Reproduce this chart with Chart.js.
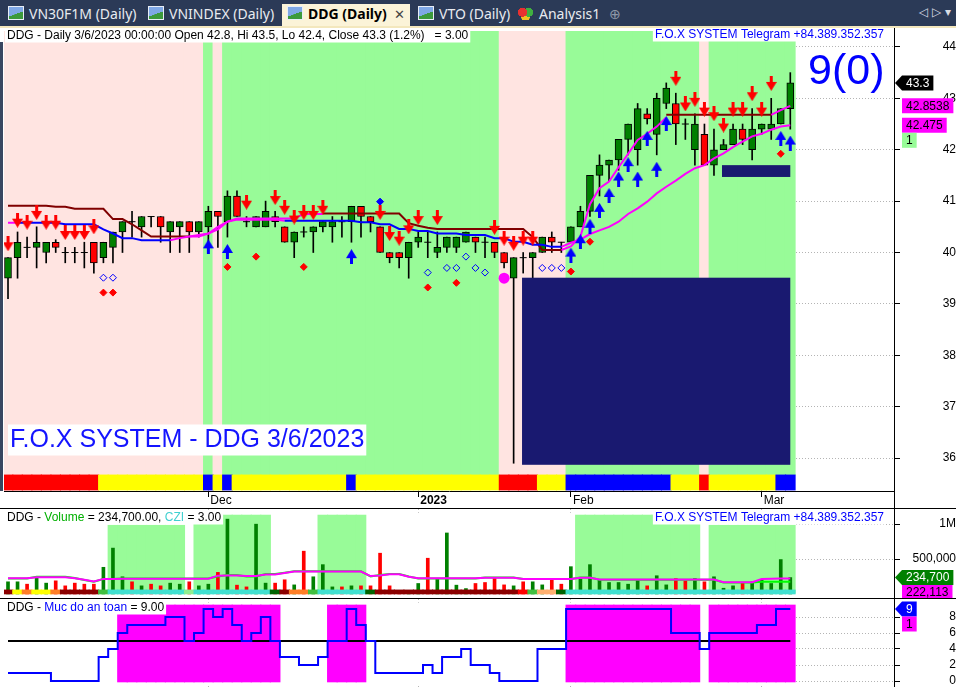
<!DOCTYPE html>
<html>
<head>
<meta charset="utf-8">
<title>DDG (Daily)</title>
<script src="https://cdn.jsdelivr.net/npm/chart.js@4.4.1/dist/chart.umd.min.js"></script>
<style>
  html, body { margin: 0; padding: 0; }
  body { width: 956px; height: 687px; overflow: hidden; background: #fff; position: relative; }
  #tabbar { position: absolute; left: 0; top: 0; width: 956px; height: 27px; background: #2b3a57; }
  #tabline { position: absolute; left: 0; top: 26px; width: 956px; height: 2px; background: #f3e7bd; }
  .tab { position: absolute; top: 4px; height: 23px; line-height: 22px; color: #e8ebf0; font: 14px "Noto Sans", sans-serif; white-space: nowrap; }
  .tab.on { background: #fbf3d8; color: #000; font-weight: bold; padding-left: 5px; width: 123px; }
  .ic { display: inline-block; width: 14px; height: 12px; margin-right: 5px; vertical-align: -1px; border: 1px solid #e8eef6;
        background: linear-gradient(160deg, #7fa8e6 55%, #3c9a3c 56%); }
  .cube { display: inline-block; width: 15px; height: 13px; margin-right: 6px; vertical-align: -1px;
          background: radial-gradient(circle at 30% 40%, #e83030 35%, transparent 36%), radial-gradient(circle at 70% 40%, #40b040 35%, transparent 36%), radial-gradient(circle at 50% 75%, #f0c020 35%, transparent 36%); }
  .x { font-weight: normal; color: #444; margin-left: 7px; font-size: 13px; }
  .nav { position: absolute; top: 5px; color: #d8dce4; font: 12px "DejaVu Sans", sans-serif; }
  canvas { position: absolute; left: 0; }
  #cPrice { top: 28px; }
  #cVol { top: 508px; }
  #cMuc { top: 598px; }
  .ln { position: absolute; background: #000; }
</style>
</head>
<body>
<div id="tabbar">
  <div class="tab" style="left:8px"><span class="ic"></span>VN30F1M (Daily)</div>
  <div class="tab" style="left:148px"><span class="ic"></span>VNINDEX (Daily)</div>
  <div class="tab on" style="left:282px"><span class="ic"></span>DDG (Daily)<span class="x">✕</span></div>
  <div class="tab" style="left:418px"><span class="ic"></span>VTO (Daily)</div>
  <div class="tab" style="left:518px"><span class="cube"></span>Analysis1</div>
  <div class="tab" style="left:609px;color:#8f98a8">⊕</div>
  <div class="nav" style="left:919px">◁</div>
  <div class="nav" style="left:932px">▷</div>
  <div class="nav" style="left:945px">▾</div>
</div>
<div id="tabline"></div>
<canvas id="cPrice" width="956" height="480"></canvas>
<canvas id="cVol" width="956" height="90"></canvas>
<canvas id="cMuc" width="956" height="89"></canvas>
<div class="ln" style="left:0;top:508px;width:956px;height:1px"></div>
<div class="ln" style="left:0;top:598px;width:956px;height:1px"></div>
<div class="ln" style="left:894px;top:28px;width:1px;height:659px"></div>
<div class="ln" style="left:0;top:42px;width:3px;height:449px;background:#3a4660"></div>

<script>
// ---- values (one entry per trading day, 2 Nov 2022 .. 6 Mar 2023) ----
const monthBars  = [21, 43, 59, 79];
const monthNames = ['Dec', '2023', 'Feb', 'Mar'];

const opens = [39.5,39.9,40.1,40.1,40.0,40.2,40.0,40.0,40.0,40.2, 39.9,40.1,40.4,40.6,40.5,40.7,40.7,40.4,40.5,40.6,
  40.4,40.5,40.8,40.6,41.1,40.6,40.5,40.5,40.7,40.5, 40.2,40.4,40.4,40.5,40.5,40.6,40.6,40.9,40.7,40.5,
  40.0,40.0,39.9,40.2,40.2,40.0,40.1,40.1,40.2,40.3, 40.2,40.2,40.0,39.5,39.9,39.9,40.0,40.3,40.2,40.2,
  40.5,40.8,41.5,41.7,41.8,42.2,42.0,42.7,42.3,42.9, 42.9,42.5,42.0,42.3,41.7,42.0,42.1,42.4,42.0,42.4,
  42.4,42.5,42.8];
const highs = [39.9,40.4,40.3,40.5,40.2,40.25,40.1,40.1,40.2,40.2, 40.2,40.4,40.6,40.8,40.7,40.7,40.7,40.6,40.6,40.6,
  40.6,40.9,40.8,41.2,41.2,40.7,40.7,41.0,40.8,40.5, 40.4,40.5,40.5,40.6,40.7,40.7,40.9,40.9,40.7,40.5,
  40.0,40.0,40.2,40.4,40.4,40.4,40.3,40.3,40.4,40.3, 40.3,40.2,40.0,39.9,40.0,40.0,40.3,40.4,40.2,40.5,
  40.9,41.5,41.9,41.8,42.2,42.5,42.9,42.8,43.1,43.3, 43.1,42.6,42.7,42.5,42.4,42.2,42.5,42.5,42.8,42.5,
  43.0,42.8,43.5];
const lows = [39.1,39.5,39.9,39.7,39.8,40.0,39.8,39.8,39.7,39.6, 39.8,39.8,40.0,40.3,40.3,40.5,40.2,40.0,40.0,40.0,
  40.3,40.2,40.1,40.3,40.7,40.5,40.5,40.5,40.5,40.2, 39.9,40.3,40.0,40.4,40.2,40.3,40.2,40.3,40.4,40.0,
  39.8,39.7,39.5,40.1,39.9,39.9,40.0,40.0,40.2,40.0, 39.9,39.9,39.7,35.9,39.6,39.5,40.0,40.0,40.0,40.2,
  40.5,40.7,41.1,41.4,41.6,41.9,41.7,42.5,41.9,42.8, 42.1,42.2,41.7,41.7,41.5,42.0,42.1,42.1,41.8,42.3,
  42.2,42.5,42.4];
const closes = [39.9,40.2,40.1,40.2,40.2,40.1,40.0,40.0,40.0,39.8, 40.2,40.4,40.6,40.6,40.7,40.7,40.5,40.6,40.6,40.4,
  40.6,40.8,40.7,41.1,40.7,40.6,40.7,40.8,40.6,40.2, 40.4,40.4,40.5,40.6,40.6,40.6,40.9,40.7,40.6,40.0,
  39.9,39.9,40.2,40.3,40.2,40.1,40.3,40.3,40.4,40.2, 40.2,40.0,39.8,39.9,39.9,40.0,40.3,40.2,40.2,40.5,
  40.8,41.5,41.7,41.8,42.2,42.5,42.8,42.6,43.0,43.2, 42.5,42.5,42.5,41.7,42.0,42.1,42.4,42.2,42.4,42.5,
  42.5,42.8,43.3];

// trend lines (null = not drawn in that colour)
const maBlue = [null,40.58,40.58,40.58,40.58,40.58,40.55,40.55,40.55,40.55, 40.45,40.37,40.28,40.28,40.24,40.24,40.24,40.24,null,null,
  null,null,null,null,null,null,null,null,null,40.62, 40.62,40.62,40.62,40.62,40.62,40.62,40.62,40.59,40.59,40.55,
  40.55,40.46,40.46,40.42,40.42,40.37,40.37,40.37,40.34,40.34, 40.34,40.28,40.28,40.21,40.21,40.15,40.15,40.11,40.11,null,
  null,null,null,null,null,null,null,null,null,null, null,null,null,null,null,null,null,null,null,null,
  null,null,null];
const maMag = [40.58,40.58,null,null,null,null,null,null,null,null, null,null,null,null,null,null,null,40.24,40.28,40.31,
  40.34,40.37,40.5,40.6,40.64,40.64,40.64,40.64,40.64,40.62, null,null,null,null,null,null,null,null,null,null,
  null,null,null,null,null,null,null,null,null,null, null,null,null,null,null,null,null,null,40.11,40.19,
  40.25,40.36,40.43,40.5,40.6,40.75,40.86,40.99,41.15,41.28, 41.4,41.53,41.64,41.7,41.83,41.93,42.05,42.16,42.26,42.31,
  42.39,42.45,42.475];
const stRed = [40.91,40.91,40.91,40.91,40.91,40.89,40.89,40.85,40.85,40.85, 40.85,40.65,40.65,40.55,40.43,40.31,40.31,40.31,40.31,40.31,
  null,null,null,null,null,null,null,null,null,null, null,null,null,40.76,40.76,40.76,40.76,40.76,40.76,40.76,
  40.76,40.76,40.57,40.52,40.48,40.46,40.46,40.46,40.46,40.46, 40.46,40.46,40.46,40.46,40.46,40.3,40.05,40.05,40.05,null,
  null,null,null,null,null,null,null,null,null,42.68, 42.68,42.68,42.68,42.68,42.68,42.68,42.68,42.68,42.68,42.68,
  42.68,null,null];
const stMag = [null,null,null,null,null,null,null,null,null,null, null,null,null,null,null,null,null,null,null,40.31,
  40.31,40.37,40.45,40.6,40.66,40.66,40.66,40.66,40.66,40.66, 40.66,40.75,40.75,40.75,null,null,null,null,null,null,
  null,null,null,null,null,null,null,null,null,null, null,null,null,null,null,null,null,null,40.05,40.12,
  40.31,40.94,41.25,41.38,41.66,41.92,42.19,42.31,42.45,42.63, null,null,null,null,null,null,null,null,null,null,
  42.68,42.77,42.8538];

// signal marks
const downArrowBars = [0,1,2,3,4,5,6,7,8,9,25,28,29,30,31,32,33,39,40,41,42,43,45,51,52,53,54,55,70,71,72,73,74,75,76,77,78,79,80];
const downArrowAt = [40.17,40.63,40.59,40.78,40.59,40.59,40.39,40.39,40.39,40.5,40.98,41.07,40.88,40.69,40.78,40.78,40.88,40.78,40.37,40.28,
  40.5,40.68,40.68,40.49,40.28,40.18,40.28,40.28,43.39,42.89,42.98,42.79,42.70,42.48,42.79,42.79,43.09,42.79,43.29];
const upArrowBars = [21,23,36,59,60,61,62,63,64,65,66,67,68,69,81,82];
const upArrowAt = [40.11,40.02,39.92,39.95,40.21,40.51,40.82,41.11,41.43,41.71,41.43,42.22,41.62,42.51,42.22,42.13];
const redDotBars = [10,11,23,26,31,44,47,59,61,81];
const redDotAt = [39.22,39.22,39.72,39.92,39.72,39.32,39.41,39.63,40.21,41.92];
const ringBars = [10,11,44,46,47,48,49,50,56,57,58];
const ringAt = [39.51,39.51,39.61,39.7,39.7,39.92,39.7,39.61,39.7,39.7,39.7];
const blueDotBars = [39], blueDotAt = [40.99];
const bigDotBars = [52], bigDotAt = [39.5];
const zoneBoxes = [[53.88, 82.0, 39.51, 35.87], [74.84, 82.0, 41.70, 41.47]];

// per-bar state strings
const priceBg  = 'ppppppppppppppppppppp' + 'g' + 'p' + 'ggggggggggggggggggggggggggggg' + 'ppppppp' + 'gggggggggggggg' + 'p' + 'ggggggggg';
const ribbon   = 'RRRRRRRRRR' + 'YYYYYYYYYYY' + 'BYB' + 'YYYYYYYYYYYY' + 'B' + 'YYYYYYYYYYYYYYY' + 'RRRR' + 'YYY' + 'BBBBBBBBBBB' + 'YYY' + 'R' + 'YYYYYYY' + 'BB';
const cziState = 'DYOYYODDDDG' + 'TTTTTTTT' + 'L' + 'TTTTTTTT' + 'KDOOG' + 'TTTTT' + 'K' + 'DDDDDDDDDDDDDDD' + 'RGAAK' + 'TTTTTTTTTTTTTTTTTTTTTTTT';
const volBand  = '00000000000' + '11111111' + '0' + '22222222' + '00000' + '22222' + '0000000000000000000000' + '2222222222222' + '0' + '111111111';
const mucBand  = '000000000000' + '11111111111111111' + '00000' + '1111' + '000000000000000000000' + '11111111111111' + '0' + '111111111';

const volumes = [174,174,140,246,155,188,116,155,140,140, 382,657,246,174,116,140,116,155,140,174,
  116,140,309,1072,126,101,1000,155,155,203, 130,613,246,420,101,101,116,116,116,584,
  116,43,43,150,512,222,874,126,77,150, 164,237,130,116,174,174,130,213,140,391,
  213,420,203,164,164,140,203,116,261,130, 222,188,222,174,246,82,116,164,174,203,
  150,493,234.7].map(v => v * 1000);
const volMaGreen = [222,222,222,246,246,246,246,230,200,174, 213,213,222,222,222,222,222,222,222,222,
  222,222,250,271,271,251,251,285,285,305, 324,324,324,324,324,324,324,324,251,270,
  285,285,250,222,222,222,222,222,222,222, 237,237,237,237,213,213,213,213,213,213,
  237,237,203,203,203,203,203,203,203,203, 203,203,203,203,203,164,164,164,164,174,
  174,174,174].map(v => v * 1000);
const volMaMag = [226,226,226,240,240,240,240,226,205,180, 216,216,218,218,218,218,218,218,218,218,
  218,218,262,266,266,256,256,280,280,300, 320,320,320,320,320,320,320,320,256,266,
  281,281,246,226,226,226,226,226,226,226, 233,233,233,233,216,216,216,216,216,216,
  233,233,207,207,207,207,207,207,207,207, 207,207,207,207,207,168,168,168,168,215,
  218,220,222.113].map(v => v * 1000);

const mucValues = [1,1,1,1,1,0,0,0,0,0, 3,4,6,7,7,7,7,8,8,5, 6,9,8,9,7,5,6,8,5,3,
  3,2,2,3,5,5,9,7,5,1, 1,1,1,1,2,1,3,3,4,2, 2,1,0,0,0,0,4,4,4,9,
  9,9,9,9,9,9,9,9,9,9, 6,6,6,4,6,6,6,6,6,7, 7,9,9];
const mucLevel = 5;

// ---- look ----
const FONT = '"Liberation Sans", Arial, sans-serif';
Chart.defaults.font.family = FONT;
Chart.defaults.font.size = 12;
Chart.defaults.color = '#000';
Chart.defaults.animation = false;

const N = closes.length;
const bars = closes.map((_, i) => i);
const X_MIN = -0.42, X_MAX = 92.87;
const GRID = '#b4b4b4';
const bgColor = { p: '#ffe4e1', g: '#98fb98' };
const ribbonColor = { R: '#ff0000', Y: '#ffff00', B: '#0000ff' };
const cziColor = { D: '#8b0000', Y: '#ffff00', O: '#ff7f27', A: '#ffb070', G: '#40c040', K: '#006400', T: '#40e0d0', L: '#90ee90', R: '#ff0000' };

const pts = (xs, ys) => xs.map((x, k) => ({ x, y: ys[k] }));
const line = (arr, color) => ({ type: 'line', data: arr.map((v, i) => ({ x: i, y: v })), borderColor: color, borderWidth: 2,
  pointRadius: 0, spanGaps: false, order: 6, yAxisID: 'y' });
// one full-width bar per day on the hidden 0..1 axis; lo/hi may depend on the state code
const band = (codes, lo, hi, colors, order, skip) => ({
  type: 'bar', yAxisID: 'yb', grouped: false, barThickness: 10, order, clip: 0,
  data: codes.split('').map((c, i) => ({ x: i, y: c === skip ? null : [typeof lo === 'object' ? lo[c] : lo, typeof hi === 'object' ? hi[c] : hi] })),
  backgroundColor: codes.split('').map(c => colors[c] || '#fff')
});

function arrowImg(color, up) {
  const c = document.createElement('canvas');
  c.width = 11; c.height = 15;
  const g = c.getContext('2d');
  if (up) { g.translate(0, 15); g.scale(1, -1); }
  g.fillStyle = color;
  g.fillRect(4, 0, 3, 7);
  g.beginPath(); g.moveTo(0, 6); g.lineTo(11, 6); g.lineTo(5.5, 15); g.closePath(); g.fill();
  return c;
}
const downImg = arrowImg('#ff0000', false);
const upImg = arrowImg('#0000ff', true);

const noPad = s => { s.paddingLeft = s.paddingRight = s.paddingTop = s.paddingBottom = 0; };

function xAxis(labels) {
  return {
    type: 'linear', min: X_MIN, max: X_MAX, offset: false, bounds: 'data',
    afterBuildTicks: s => { s.ticks = monthBars.map(v => ({ value: v })); },
    afterFit: s => { s.height = labels ? 17 : 0; noPad(s); },
    grid: { color: GRID, offset: false, drawTicks: labels, tickLength: 6, tickColor: '#000' },
    border: { display: labels, color: '#000', dash: [1, 2] },
    ticks: {
      display: labels, align: 'start', labelOffset: 2, padding: -4, maxRotation: 0, autoSkip: false,
      callback: v => monthNames[monthBars.indexOf(v)],
      font: c => ({ size: 12, family: FONT, weight: monthNames[c.index] === '2023' ? 'bold' : 'normal' })
    }
  };
}
function yAxis(min, max, tickVals, fmt, pad) {
  return {
    position: 'right', min, max, beginAtZero: false, offset: false,
    afterBuildTicks: s => { s.ticks = tickVals.map(v => ({ value: v })); },
    afterFit: s => { s.width = 62; noPad(s); },
    grid: { color: GRID, tickLength: 6, tickColor: '#000' },
    border: { color: '#000', dash: [1, 2] },
    ticks: { crossAlign: 'far', padding: pad, autoSkip: false, callback: fmt }
  };
}
const hiddenAxis = { display: false, min: 0, max: 1, beginAtZero: false, afterFit: noPad };

// titles, value tags on the axis, and the two zone boxes
const overlay = {
  id: 'overlay',
  afterDatasetsDraw(chart, args, o) {
    const { ctx, scales } = chart;
    (o.boxes || []).forEach(b => {
      const x0 = scales.x.getPixelForValue(b[0]), x1 = scales.x.getPixelForValue(b[1]);
      const y0 = scales.y.getPixelForValue(b[2]), y1 = scales.y.getPixelForValue(b[3]);
      ctx.fillStyle = '#191970';
      ctx.fillRect(x0, y0, x1 - x0, y1 - y0);
    });
  },
  afterDraw(chart, args, o) {
    const ctx = chart.ctx;
    ctx.save();
    ctx.textBaseline = 'middle';
    ctx.textAlign = 'left';
    (o.texts || []).forEach(t => {
      ctx.font = t.font;
      const w = t.parts.reduce((s, p) => s + ctx.measureText(p[0]).width, 0);
      let x = t.align === 'right' ? t.x - w : t.x;
      if (t.h) { ctx.fillStyle = '#fff'; ctx.fillRect(x - 2, t.y - t.h / 2, w + 4, t.h); }
      t.parts.forEach(p => { ctx.fillStyle = p[1]; ctx.fillText(p[0], x, t.y); x += ctx.measureText(p[0]).width; });
    });
    const ys = chart.scales.y, left = ys.left, h = 15;
    let prevBottom = -1e9;
    ctx.font = '12px ' + FONT;
    (o.tags || []).forEach(t => {
      const w = ctx.measureText(t.text).width + 8, x0 = left + 8;
      let cy = t.value == null ? prevBottom + h / 2 : ys.getPixelForValue(t.value);
      if (cy - h / 2 < prevBottom) cy = prevBottom + h / 2;
      ctx.fillStyle = t.bg;
      ctx.beginPath();
      if (t.arrow) {
        ctx.moveTo(left + 1, cy); ctx.lineTo(x0, cy - h / 2); ctx.lineTo(x0 + w, cy - h / 2);
        ctx.lineTo(x0 + w, cy + h / 2); ctx.lineTo(x0, cy + h / 2); ctx.closePath();
      } else ctx.rect(x0, cy - h / 2, w, h);
      ctx.fill();
      ctx.fillStyle = t.fg;
      ctx.fillText(t.text, x0 + 4, cy + 0.5);
      prevBottom = cy + h / 2;
    });
    ctx.restore();
  }
};

const baseOpts = {
  responsive: false, animation: false, events: [],
  plugins: { legend: { display: false }, tooltip: { enabled: false } }
};
const fox = { x: 884, align: 'right', parts: [['F.O.X SYSTEM Telegram +84.389.352.357', '#0000ff']], font: '12px ' + FONT, h: 13 };
const last = N - 1;
const pct = ((closes[last] / closes[last - 1] - 1) * 100).toFixed(1);

// ---- price pane ----
const doji = bars.map(i => opens[i] === closes[i] ? closes[i] : null);
new Chart(document.getElementById('cPrice'), {
  type: 'scatter',
  data: {
    datasets: [
      band(priceBg, 0.035, 1, bgColor, 30),
      band(ribbon, 0.002, 0.035, ribbonColor, 29),
      line(maBlue, '#0000ff'), line(maMag, '#ff00ff'), line(stRed, '#800000'), line(stMag, '#ff00ff'),
      { type: 'bar', grouped: false, barThickness: 1, order: 9, data: bars.map(i => ({ x: i, y: [lows[i], highs[i]] })), backgroundColor: '#000' },
      { type: 'bar', grouped: false, barThickness: 7, order: 8, borderWidth: 1, borderColor: '#000', borderSkipped: false,
        data: bars.map(i => ({ x: i, y: opens[i] === closes[i] ? null : [opens[i], closes[i]] })),
        backgroundColor: bars.map(i => closes[i] > opens[i] ? '#008000' : '#ff0000') },
      { type: 'scatter', order: 7, data: doji.map((v, i) => ({ x: i, y: v })), pointStyle: 'line', pointRadius: 3.5, borderColor: '#000', borderWidth: 1 },
      { type: 'scatter', order: 3, data: pts(downArrowBars, downArrowAt), pointStyle: downImg, pointRadius: 7 },
      { type: 'scatter', order: 3, data: pts(upArrowBars, upArrowAt), pointStyle: upImg, pointRadius: 7 },
      { type: 'scatter', order: 3, data: pts(redDotBars, redDotAt), pointStyle: 'rectRot', pointRadius: 3.5, backgroundColor: '#ff0000', borderColor: '#ff0000', borderWidth: 1 },
      { type: 'scatter', order: 3, data: pts(ringBars, ringAt), pointStyle: 'rectRot', pointRadius: 3.5, backgroundColor: 'rgba(0,0,0,0)', borderColor: '#0000ff', borderWidth: 1 },
      { type: 'scatter', order: 3, data: pts(blueDotBars, blueDotAt), pointStyle: 'rectRot', pointRadius: 3.5, backgroundColor: '#0000ff', borderColor: '#0000ff', borderWidth: 1 },
      { type: 'scatter', order: 3, data: pts(bigDotBars, bigDotAt), pointStyle: 'circle', pointRadius: 5.5, backgroundColor: '#ff00ff', borderColor: '#ff00ff', borderWidth: 0 }
    ]
  },
  options: {
    ...baseOpts,
    layout: { autoPadding: false, padding: { left: 4, top: 3, right: 0, bottom: 0 } },
    scales: {
      x: xAxis(true),
      y: yAxis(35.36, 44.31, [36, 37, 38, 39, 40, 41, 42, 43, 44], v => v, 37),
      yb: hiddenAxis
    },
    plugins: {
      ...baseOpts.plugins,
      overlay: {
        boxes: zoneBoxes,
        texts: [
          { x: 7, y: 7.5, parts: [[`DDG - Daily 3/6/2023 00:00:00 Open ${opens[last]}, Hi ${highs[last]}, Lo ${lows[last]}, Close ${closes[last]} (${pct}%)   = 3.00`, '#000']], font: '12px ' + FONT, h: 14 },
          { ...fox, y: 7 },
          { x: 10, y: 412, parts: [['F.O.X SYSTEM - DDG 3/6/2023', '#1414ff']], font: '25px ' + FONT, h: 31 },
          { x: 808, y: 44, parts: [['9(0)', '#0000ff']], font: '43px ' + FONT }
        ],
        tags: [
          { text: String(closes[last]), value: closes[last], bg: '#000', fg: '#fff', arrow: true },
          { text: String(stMag[last]), value: stMag[last], bg: '#ff00ff', fg: '#000' },
          { text: String(maMag[last]), value: maMag[last], bg: '#ff00ff', fg: '#000' },
          { text: '1', value: null, bg: '#98fb98', fg: '#000' }
        ]
      }
    }
  },
  plugins: [overlay]
});

// ---- volume pane ----
new Chart(document.getElementById('cVol'), {
  type: 'scatter',
  data: {
    datasets: [
      band('1'.repeat(N), 0.0, 0.955, { 1: '#ffffff' }, 31),
      band(volBand, { 1: 0.057, 2: 0.057 }, { 1: 0.818, 2: 0.932 }, { 1: '#98fb98', 2: '#98fb98' }, 30, '0'),
      band(cziState, 0.045, 0.091, cziColor, 2),
      { type: 'bar', grouped: false, barThickness: 3, order: 9, data: bars.map(i => ({ x: i, y: volumes[i] })),
        backgroundColor: bars.map(i => closes[i] > opens[i] ? '#008000' : '#ff0000') },
      { ...line(volMaGreen, '#00ff00'), order: 5 },
      { ...line(volMaMag, '#ff00ff'), order: 4 }
    ]
  },
  options: {
    ...baseOpts,
    layout: { autoPadding: false, padding: { left: 4, top: 1, right: 0, bottom: 0 } },
    scales: {
      x: xAxis(false),
      y: yAxis(-58000, 1217400, [500000, 1000000], v => v === 1000000 ? '1M' : v.toLocaleString('en-US'), 7),
      yb: hiddenAxis
    },
    plugins: {
      ...baseOpts.plugins,
      overlay: {
        texts: [
          { x: 7, y: 10, parts: [['DDG - ', '#000'], ['Volume', '#00b000'], [' = ' + volumes[last].toLocaleString('en-US') + '.00, ', '#000'], ['CZI', '#40d0d0'], [' = 3.00', '#000']], font: '12px ' + FONT, h: 13 },
          { ...fox, y: 10 }
        ],
        tags: [
          { text: volumes[last].toLocaleString('en-US'), value: volumes[last], bg: '#008000', fg: '#fff', arrow: true },
          { text: volMaMag[last].toLocaleString('en-US'), value: volMaMag[last], bg: '#ff00ff', fg: '#000' }
        ]
      }
    }
  },
  plugins: [overlay]
});

// ---- safety level pane ----
new Chart(document.getElementById('cMuc'), {
  type: 'scatter',
  data: {
    datasets: [
      band('1'.repeat(N), 0.034, 0.955, { 1: '#ffffff' }, 31),
      band(mucBand, 0.057, 0.932, { 1: '#ff00ff' }, 30, '0'),
      { type: 'line', order: 6, data: bars.map(i => ({ x: i, y: mucLevel })), borderColor: '#000', borderWidth: 2, pointRadius: 0 },
      { type: 'line', order: 5, data: bars.map(i => ({ x: i, y: mucValues[i] })), stepped: 'middle', borderColor: '#0000ff', borderWidth: 2, pointRadius: 0 }
    ]
  },
  options: {
    ...baseOpts,
    layout: { autoPadding: false, padding: { left: 4, top: 1, right: 0, bottom: 0 } },
    scales: {
      x: xAxis(false),
      y: yAxis(-0.75, 10.25, [0, 2, 4, 6, 8], v => v, 44),
      yb: hiddenAxis
    },
    plugins: {
      ...baseOpts.plugins,
      overlay: {
        texts: [
          { x: 7, y: 10, parts: [['DDG - ', '#000'], ['Muc do an toan', '#0000ff'], [' = ' + mucValues[last].toFixed(2), '#000']], font: '12px ' + FONT, h: 13 }
        ],
        tags: [
          { text: String(mucValues[last]), value: mucValues[last], bg: '#0000ff', fg: '#fff', arrow: true },
          { text: '1', value: null, bg: '#ff00ff', fg: '#000' }
        ]
      }
    }
  },
  plugins: [overlay]
});
</script>
</body>
</html>
